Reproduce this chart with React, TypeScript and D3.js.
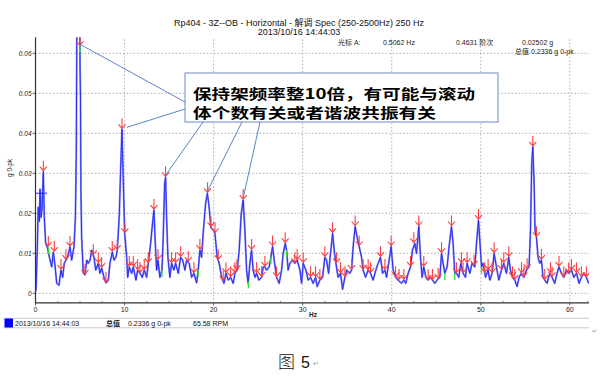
import React from "react";
import * as d3 from "d3";

const W = 600;
const H = 377;

// ---------- data ----------
const titleLine1 = "Rp404 - 3Z--OB - Horizontal - 解调 Spec (250-2500Hz) 250 Hz";
const titleLine2 = "2013/10/16 14:44:03";
const xTicks = [0, 10, 20, 30, 40, 50, 60];
const xMinorTicks = [2.5, 5, 7.5, 12.5, 15, 17.5, 22.5, 25, 27.5, 32.5, 35, 37.5, 42.5, 45, 47.5, 52.5, 55, 57.5, 62];
const yTicks = [0, 0.01, 0.02, 0.03, 0.04, 0.05, 0.06];
const yTickLabels = ["0", "0.01", "0.02", "0.03", "0.04", "0.05", "0.06"];

// [Hz, g 0-pk]
const spectrum: [number, number][] = [
  [0.0, 0.0005], [0.06, 0.001], [0.2, 0.011], [0.31, 0.0215], [0.43, 0.018], [0.51, 0.026],
  [0.62, 0.019], [0.73, 0.021], [0.88, 0.0304], [0.99, 0.019], [1.14, 0.0125], [1.32, 0.0116],
  [1.63, 0.0083], [1.82, 0.0066], [2.0, 0.0103], [2.19, 0.007], [2.38, 0.0025], [2.64, 0.002],
  [2.86, 0.0058], [3.05, 0.004], [3.23, 0.0075], [3.42, 0.0083], [3.61, 0.009], [3.87, 0.0116],
  [4.06, 0.0083], [4.32, 0.0116], [4.48, 0.019], [4.58, 0.035], [4.66, 0.075], [4.8, 0.095],
  [4.92, 0.095], [5.0, 0.057], [5.05, 0.049], [5.1, 0.026], [5.18, 0.014], [5.37, 0.005],
  [5.56, 0.0046], [5.75, 0.0083], [5.93, 0.0075], [6.12, 0.0083], [6.31, 0.0108], [6.56, 0.009],
  [6.76, 0.0058], [7.05, 0.0075], [7.24, 0.005], [7.43, 0.0063], [7.69, 0.004], [7.91, 0.0026],
  [8.17, 0.0033], [8.36, 0.0075], [8.62, 0.0103], [8.81, 0.0083], [9.03, 0.009], [9.18, 0.0108],
  [9.4, 0.019], [9.56, 0.031], [9.71, 0.041], [9.86, 0.028], [10.01, 0.015], [10.24, 0.009],
  [10.35, 0.004], [10.53, 0.0066], [10.8, 0.005], [10.98, 0.0066], [11.28, 0.0033], [11.47, 0.0058],
  [11.73, 0.005], [11.99, 0.004], [12.21, 0.0058], [12.48, 0.004], [12.66, 0.0075], [12.93, 0.0125],
  [13.16, 0.018], [13.3, 0.0208], [13.45, 0.0125], [13.6, 0.0058], [13.75, 0.0083], [13.97, 0.004],
  [14.2, 0.0058], [14.34, 0.014], [14.5, 0.0275], [14.61, 0.029], [14.72, 0.019], [14.87, 0.009],
  [15.09, 0.004], [15.28, 0.0075], [15.54, 0.0058], [15.73, 0.0075], [16.03, 0.005], [16.3, 0.009],
  [16.52, 0.0083], [16.78, 0.0058], [16.97, 0.0083], [17.26, 0.0075], [17.53, 0.004], [17.79, 0.005],
  [18.09, 0.0026], [18.27, 0.0058], [18.46, 0.0108], [18.65, 0.009], [18.83, 0.015], [19.1, 0.0225],
  [19.3, 0.025], [19.5, 0.0215], [19.69, 0.0165], [19.96, 0.0158], [20.15, 0.015], [20.4, 0.009],
  [20.63, 0.0075], [20.9, 0.004], [21.16, 0.0025], [21.38, 0.005], [21.64, 0.0033], [21.91, 0.004],
  [22.2, 0.0025], [22.39, 0.005], [22.65, 0.0058], [22.87, 0.0108], [23.1, 0.02], [23.32, 0.0233],
  [23.51, 0.0158], [23.7, 0.0058], [23.88, 0.0025], [24.07, 0.0075], [24.26, 0.0108], [24.44, 0.0058],
  [24.64, 0.004], [24.83, 0.005], [25.08, 0.0033], [25.39, 0.004], [25.57, 0.0066], [25.76, 0.0066],
  [25.95, 0.0058], [26.24, 0.0066], [26.43, 0.009], [26.62, 0.0117], [26.85, 0.0075], [27.07, 0.004],
  [27.36, 0.0025], [27.63, 0.0058], [27.81, 0.01], [28.04, 0.0125], [28.19, 0.0108], [28.37, 0.0058],
  [28.56, 0.0075], [28.87, 0.0083], [29.12, 0.0075], [29.38, 0.0083], [29.69, 0.0058], [29.88, 0.0025],
  [30.06, 0.0075], [30.36, 0.0058], [30.62, 0.0033], [30.89, 0.004], [31.18, 0.0025], [31.45, 0.004],
  [31.63, 0.0017], [31.93, 0.0033], [32.23, 0.004], [32.49, 0.009], [32.68, 0.0083], [32.91, 0.005],
  [33.13, 0.01], [33.36, 0.015], [33.58, 0.01], [33.73, 0.0075], [33.98, 0.004], [34.25, 0.005],
  [34.48, 0.001], [34.74, 0.004], [34.93, 0.0058], [35.3, 0.005], [35.49, 0.0058], [35.67, 0.0117],
  [35.89, 0.0167], [36.12, 0.014], [36.34, 0.0117], [36.61, 0.009], [36.79, 0.0058], [37.06, 0.004],
  [37.35, 0.0058], [37.62, 0.005], [37.91, 0.0033], [38.22, 0.0058], [38.47, 0.0075], [38.74, 0.009],
  [38.97, 0.005], [39.23, 0.0058], [39.42, 0.004], [39.71, 0.0083], [39.93, 0.0117], [40.16, 0.0058],
  [40.43, 0.004], [40.72, 0.0033], [41.1, 0.0025], [41.36, 0.0033], [41.58, 0.0025], [41.84, 0.005],
  [42.11, 0.0066], [42.33, 0.0108], [42.59, 0.0125], [42.78, 0.01], [43.04, 0.0167], [43.23, 0.009],
  [43.41, 0.004], [43.6, 0.0066], [43.83, 0.004], [44.09, 0.0033], [44.36, 0.004], [44.58, 0.0033],
  [44.84, 0.0025], [45.09, 0.0033], [45.4, 0.004], [45.59, 0.01], [45.77, 0.0075], [45.96, 0.005],
  [46.22, 0.0066], [46.44, 0.0117], [46.71, 0.0167], [46.89, 0.0125], [47.08, 0.005], [47.27, 0.005],
  [47.53, 0.004], [47.76, 0.0075], [48.01, 0.005], [48.28, 0.004], [48.46, 0.0075], [48.77, 0.005],
  [49.02, 0.0075], [49.33, 0.0066], [49.52, 0.0125], [49.74, 0.0183], [49.89, 0.0133], [50.08, 0.0066],
  [50.26, 0.0075], [50.53, 0.004], [50.82, 0.0058], [51.01, 0.0033], [51.27, 0.005], [51.49, 0.01],
  [51.76, 0.0066], [52.02, 0.0033], [52.32, 0.0058], [52.58, 0.0075], [52.88, 0.005], [53.14, 0.009],
  [53.33, 0.0058], [53.56, 0.004], [53.82, 0.0033], [54.07, 0.0017], [54.3, 0.004], [54.57, 0.005],
  [54.83, 0.004], [55.13, 0.0058], [55.42, 0.0066], [55.58, 0.0158], [55.72, 0.0325], [55.84, 0.0366],
  [55.98, 0.028], [56.09, 0.0158], [56.25, 0.014], [56.43, 0.009], [56.62, 0.0075], [56.81, 0.0083],
  [56.99, 0.004], [57.18, 0.0033], [57.44, 0.0025], [57.74, 0.005], [58.0, 0.004], [58.3, 0.0025],
  [58.56, 0.005], [58.78, 0.0066], [59.06, 0.005], [59.32, 0.004], [59.62, 0.0058], [59.88, 0.005],
  [60.18, 0.0058], [60.44, 0.004], [60.74, 0.005], [61.03, 0.0025], [61.3, 0.004], [61.56, 0.005],
  [61.86, 0.004], [62.1, 0.0025],
];

// peak markers (red arrows), Hz
const peakMarkers = [
  0.88, 1.44, 2.11, 2.86, 3.42, 3.87, 4.99, 5.56, 6.49, 7.05, 7.43, 7.91, 8.62, 9.18, 9.71, 10.04,
  10.53, 10.98, 11.47, 11.73, 12.21, 12.66, 13.3, 13.75, 14.6, 15.28, 15.73, 16.3, 17.15, 17.79,
  18.46, 19.32, 19.7, 20.15, 20.52, 21.08, 21.38, 21.91, 22.39, 22.62, 23.32, 24.26, 24.83, 25.39,
  25.76, 26.62, 27.07, 28.04, 29.12, 29.38, 30.06, 30.89, 31.45, 31.93, 32.49, 33.36, 33.8, 34.25,
  34.74, 35.49, 35.89, 36.34, 36.79, 37.35, 37.62, 38.74, 39.23, 39.93, 40.43, 40.83, 41.36, 42.11,
  42.48, 43.04, 43.6, 44.09, 44.58, 45.21, 45.59, 46.71, 47.27, 47.83, 48.01, 48.46, 49.25, 49.74,
  50.45, 50.82, 51.27, 51.5, 52.32, 52.58, 53.14, 53.56, 53.82, 54.57, 54.83, 55.2, 55.84, 56.25,
  56.81, 57.18, 57.82, 58.0, 58.78, 59.32, 59.88, 60.18, 60.74, 61.3, 61.86,
];
// small green harmonic ticks, Hz
const greenMarks = [1.44, 4.99, 14.2, 18.27, 23.9, 26.43, 28.19, 45.96, 47.08, 50.08];
// cursor A
const cursorHz = 0.5062;
const cursorG = 0.02502;
// peaks pointed to by the callout
const calloutPeaks = [4.99, 9.71, 14.61, 19.3, 23.32];
const calloutLines = ["保持架频率整10倍，有可能与滚动", "体个数有关或者谐波共振有关"];

const FONT = "'Liberation Sans', Arial, 'Noto Sans CJK SC', sans-serif";

export default function App() {
  const x = d3.scaleLinear().domain([0, 62.15]).range([35.5, 589]);
  const y = d3.scaleLinear().domain([-0.0024, 0.064]).range([302.9, 37.3]);
  const [x0, x1] = x.range();
  const yBottom = y.range()[0];
  const yTop = y.range()[1];

  const line = d3
    .line<[number, number]>()
    .x((d) => x(d[0]))
    .y((d) => y(d[1]));
  const path = line(spectrum) || "";

  const interp = (f: number) => {
    const i = d3.bisector((d: [number, number]) => d[0]).left(spectrum, f);
    if (i <= 0) return spectrum[0][1];
    if (i >= spectrum.length) return spectrum[spectrum.length - 1][1];
    const a = spectrum[i - 1], b = spectrum[i];
    const t = (f - a[0]) / (b[0] - a[0]);
    return a[1] + t * (b[1] - a[1]);
  };
  const peakAt = (f: number) => {
    let m = interp(f);
    for (const d of spectrum) if (Math.abs(d[0] - f) <= 0.12) m = Math.max(m, d[1]);
    return Math.min(m, 0.062);
  };
  const markerAmp = (f: number) => (f === 4.99 ? interp(f) : peakAt(f));

  const boxX = 185, boxY = 73, boxW = 313, boxH = 49;
  const boxAnchors: [number, number][] = [
    [boxX, 102],
    [boxX, 109],
    [203, boxY + boxH],
    [242, boxY + boxH],
    [260, boxY + boxH],
  ];

  return (
    <svg width={W} height={H} style={{ display: "block", position: "absolute", left: 0, top: 0 }} fontFamily={FONT}>
      <rect x={0} y={0} width={W} height={H} fill="#fff" />
      <defs>
        <clipPath id="plotClip">
          <rect x={x0} y={yTop} width={x1 - x0} height={yBottom - yTop} />
        </clipPath>
      </defs>

      {/* title */}
      <text x={299} y={26} fontSize={9} textAnchor="middle" fill="#111">{titleLine1}</text>
      <text x={299} y={34.5} fontSize={9} textAnchor="middle" fill="#111">{titleLine2}</text>

      {/* grid */}
      {xTicks.filter((t) => t > 0).map((t) => (
        <line key={"gx" + t} x1={x(t)} x2={x(t)} y1={yTop + 2} y2={yBottom} stroke="#9a9a9a" strokeWidth={0.8} strokeDasharray="1.5,2" />
      ))}
      {yTicks.map((t) => (
        <line key={"gy" + t} x1={x0} x2={x1} y1={y(t)} y2={y(t)} stroke="#9a9a9a" strokeWidth={0.8} strokeDasharray="1.5,2" />
      ))}

      {/* cursor readout */}
      <g fontSize={7} fill="#222">
        <text x={338} y={45}>光标 A:</text>
        <text x={383} y={45}>0.5062 Hz</text>
        <text x={456} y={45}>0.4631 阶次</text>
        <text x={522} y={45}>0.02502 g</text>
        <text x={515} y={54}>总值  0.2336 g 0-pk</text>
      </g>

      {/* spectrum */}
      <g clipPath="url(#plotClip)">
        <path d={path} fill="none" stroke="#8a8ef2" strokeWidth={1.9} strokeLinejoin="round" />
        <path d={path} fill="none" stroke="#2424f2" strokeWidth={0.9} strokeLinejoin="round" />
        {greenMarks.map((f, i) => {
          const yy = y(markerAmp(f));
          return <line key={"gm" + i} x1={x(f)} x2={x(f)} y1={yy} y2={yy + 7} stroke="#33dd33" strokeWidth={1.3} />;
        })}
        {peakMarkers.map((f, i) => {
          const px = x(f);
          const py = y(markerAmp(f)) - 1;
          return (
            <path
              key={"pm" + i}
              d={`M${px},${py - 10} L${px},${py} M${px - 3.5},${py - 4} L${px},${py} L${px + 3.5},${py - 4}`}
              fill="none"
              stroke="#ff3f3f"
              strokeWidth={1.1}
            />
          );
        })}
        <line x1={x(cursorHz) - 5} x2={x(cursorHz) + 7} y1={y(cursorG)} y2={y(cursorG)} stroke="#2a2aff" strokeWidth={1} />
      </g>

      {/* axes */}
      <line x1={x0} x2={x0} y1={yTop} y2={yBottom} stroke="#333" strokeWidth={1.2} />
      <line x1={x0} x2={x1} y1={yBottom} y2={yBottom} stroke="#333" strokeWidth={1.2} />
      {yTicks.map((t, i) => (
        <g key={"yt" + t}>
          <line x1={x0 - 3} x2={x0} y1={y(t)} y2={y(t)} stroke="#333" strokeWidth={0.8} />
          <text x={x0 - 4} y={y(t)} dy="0.35em" fontSize={6.5} fontStyle="italic" textAnchor="end" fill="#222">
            {yTickLabels[i]}
          </text>
        </g>
      ))}
      <text transform={`translate(12,168) rotate(-90)`} fontSize={6.5} textAnchor="middle" fill="#222">g 0-pk</text>
      {xTicks.map((t) => (
        <g key={"xt" + t}>
          <line x1={x(t)} x2={x(t)} y1={yBottom} y2={yBottom + 2.5} stroke="#333" strokeWidth={0.8} />
          <text x={x(t)} y={311.5} fontSize={7} textAnchor="middle" fill="#222">{t}</text>
        </g>
      ))}
      {xMinorTicks.map((t) => (
        <line key={"xm" + t} x1={x(t)} x2={x(t)} y1={yBottom - 2} y2={yBottom} stroke="#555" strokeWidth={0.7} />
      ))}
      <text x={313} y={317} fontSize={6.5} fontWeight="bold" textAnchor="middle" fill="#222">Hz</text>

      {/* legend strip */}
      <line x1={3} x2={589} y1={318.3} y2={318.3} stroke="#bdbdbd" strokeWidth={0.8} />
      <line x1={3} x2={589} y1={327.8} y2={327.8} stroke="#bdbdbd" strokeWidth={0.8} />
      <rect x={4.5} y={318.5} width={8.5} height={9} fill="#0000ff" />
      <g fontSize={7} fill="#111">
        <text x={15} y={326}>2013/10/16 14:44:03</text>
        <text x={106} y={326} fontWeight="bold">总值</text>
        <text x={128} y={326}>0.2336 g 0-pk</text>
        <text x={193} y={326}>65.58 RPM</text>
      </g>
      <text x={592} y={333} fontSize={6} fill="#999">↵</text>

      {/* callout */}
      {calloutPeaks.map((f, i) => {
        const amp = f === 4.99 ? interp(f) : peakAt(f);
        const px = x(f) + (i === 1 ? 5 : 0);
        const py = y(amp) - 2;
        return (
          <line key={"cl" + i} x1={px} y1={py} x2={boxAnchors[i][0]} y2={boxAnchors[i][1]} stroke="#5d84c8" strokeWidth={1} />
        );
      })}
      <rect x={boxX} y={boxY} width={boxW} height={boxH} fill="#fff" stroke="#6a88c0" strokeWidth={1} />
      <text x={193} y={98.5} fontSize={14} fontWeight="bold" fill="#000" fontFamily="'Noto Sans CJK SC', sans-serif" textLength={282} lengthAdjust="spacingAndGlyphs">
        {calloutLines[0]}
      </text>
      <text x={193} y={117.5} fontSize={14} fontWeight="bold" fill="#000" fontFamily="'Noto Sans CJK SC', sans-serif" textLength={243} lengthAdjust="spacingAndGlyphs">
        {calloutLines[1]}
      </text>

      {/* caption */}
      <text x={278} y={368} fontSize={17} fill="#111" fontFamily="'Noto Sans CJK SC', sans-serif" fontWeight={300}>图</text>
      <text x={301} y={368} fontSize={16} fill="#111" fontFamily="'Liberation Sans', sans-serif">5</text>
      <text x={313} y={366} fontSize={7} fill="#999">↵</text>
    </svg>
  );
}
